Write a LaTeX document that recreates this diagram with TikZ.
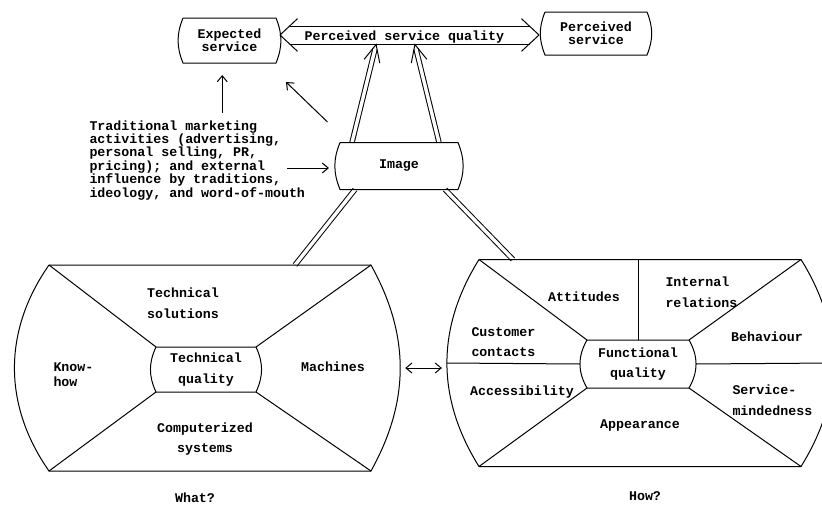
\documentclass[tikz,border=0pt]{standalone}
\usepackage{fontspec}
\setmonofont{Liberation Mono}
\usetikzlibrary{positioning,calc,arrows.meta}

\tikzset{
  lbl/.style={font=\ttfamily\bfseries\fontsize{13.3}{20.5}\selectfont, align=center, inner sep=0pt},
  tight/.style={font=\ttfamily\bfseries\fontsize{13.3}{13.4}\selectfont},
  blob/.style={lbl, rectangle, outer sep=0pt},
  dbl/.style={double, double distance=3.4pt},
  >={Straight Barb[length=6pt,width=10pt]},
}

\begin{document}
\begin{tikzpicture}[x=1pt, y=1pt, line width=1pt]
\useasboundingbox (0,0) rectangle (822,-506);

\node[blob, tight, minimum width=93pt, minimum height=45pt] (exp) at (229.5,-40.5) {Expected\\service};
\node[blob, tight, minimum width=102pt, minimum height=43pt] (perc) at (596,-33.5) {Perceived\\service};
\node[blob, minimum width=118pt, minimum height=47pt] (img) at (399,-166) {Image};
\node[lbl, tight, align=left, anchor=north west] (mkt) at (89,-120) {Traditional marketing\\activities (advertising,\\personal selling, PR,\\pricing); and external\\influence by traditions,\\ideology, and word-of-mouth};

\node[blob, minimum width=322pt, minimum height=206pt] (what) at (210,-368) {};
\node[blob, minimum width=100pt, minimum height=45pt] (tq) at (206,-369.5) {Technical\\quality};
\node[blob, minimum width=322pt, minimum height=207pt] (how) at (640,-363) {};
\node[blob, minimum width=102pt, minimum height=48pt] (fq) at (638,-364) {Functional\\quality};

% perceived service quality
\coordinate (lt) at ([shift={(4,5.5)}]exp.east);
\coordinate (rt) at ($(perc.west |- lt)+(-6,0)$);
\draw[double, double distance=17pt, shorten <=9.5pt, shorten >=9.5pt] (lt) -- (rt);
\draw ($(lt)!24pt!43:(rt)$) -- (lt) -- ($(lt)!24pt!-43:(rt)$);
\draw ($(rt)!24pt!43:(lt)$) -- (rt) -- ($(rt)!24pt!-43:(lt)$);
\node[lbl] (psq) at ($(lt)!0.48!(rt)+(0,-2)$) {Perceived service quality};

% image up to perceived service quality
\coordinate (l0) at ([xshift=12pt]img.north west);
\coordinate (r0) at ([xshift=-19pt]img.north east);
\coordinate (u1) at ($(lt)!0.371!(rt)+(0,-9.5)$);
\coordinate (u2) at ($(lt)!0.521!(rt)+(0,-9.5)$);
\draw[dbl, shorten >=4.7pt] (l0) -- (u1);
\draw ($(u1)!19pt!25:(l0)$) -- (u1) -- ($(u1)!19pt!-25:(l0)$);
\draw[dbl, shorten >=4.7pt] (r0) -- (u2);
\draw ($(u2)!19pt!25:(r0)$) -- (u2) -- ($(u2)!19pt!-25:(r0)$);

% image down to the two qualities
\draw[dbl] ([xshift=15pt]img.south west) -- ([xshift=85pt]what.north);
\draw[dbl] ([xshift=-13pt]img.south east) -- ([xshift=34pt]how.north west);

% marketing influences
\draw[->, shorten <=7pt, shorten >=12pt] ($(mkt.north)+(25,0)$) -- ($(mkt.north |- exp.south)+(25,0)$);
\coordinate (d1) at ([shift={(22,-2)}]mkt.north east);
\coordinate (d2) at ([shift={(10,-19)}]exp.south east);
\draw[->] (d1) -- (d2);
\coordinate (i1) at ($(img.west)+(-11,-2)$);
\draw[->] ($(mkt.east |- i1)+(-18,0)$) -- (i1);

% outlines
\draw (exp.north west) -- (exp.north east) to[bend left=22] (exp.south east) -- (exp.south west) to[bend left=22] (exp.north west);
\draw (perc.north west) -- (perc.north east) to[bend left=22] (perc.south east) -- (perc.south west) to[bend left=22] (perc.north west);
\draw (img.north west) -- (img.north east) to[bend left=22] (img.south east) -- (img.south west) to[bend left=22] (img.north west);
\draw (what.north west) -- (what.north east) to[bend left=29] coordinate[pos=.5] (whatE) (what.south east) -- (what.south west) to[bend left=35] (what.north west);
\draw (tq.north west) -- (tq.north east) to[bend left=25] (tq.south east) -- (tq.south west) to[bend left=25] (tq.north west);
\draw (how.north west) -- (how.north east) to[bend left=32] coordinate[pos=.5] (howE) (how.south east) -- (how.south west) to[bend left=32] coordinate[pos=.5] (howW) (how.north west);
\draw (fq.north west) -- (fq.north east) to[bend left=30] coordinate[pos=.5] (fqE) (fq.south east) -- (fq.south west) to[bend left=30] coordinate[pos=.5] (fqW) (fq.north west);

% technical quality
\draw (what.north west) -- (tq.north west);
\draw (what.north east) -- (tq.north east);
\draw (what.south west) -- (tq.south west);
\draw (what.south east) -- (tq.south east);
\node[lbl] (tsol) at (183,-303) {Technical\\solutions};
\node[lbl, align=left, anchor=west] (know) at (53,-374.5) {Know-\\[-5.5pt]how};
\node[lbl] (mach) at (333,-367) {Machines};
\node[lbl] (comp) at (205,-439) {Computerized\\systems};
\node[lbl, below=21pt of what, xshift=-15pt] (qwhat) {What?};

% functional quality
\draw (how.north west) -- (fq.north west);
\draw (how.north east) -- (fq.north east);
\draw (how.south west) -- (fq.south west);
\draw (how.south east) -- (fq.south east);
\draw (howW) -- (fqW);
\draw (fqE) -- (howE);
\draw (fq.north) -- (fq.north |- how.north);
\node[lbl] (att) at (584,-297) {Attitudes};
\node[lbl, align=left, anchor=west] (intr) at (665,-292) {Internal\\relations};
\node[lbl] (beh) at (767,-337) {Behaviour};
\node[lbl, align=left, anchor=west] (cust) at (471,-342) {Customer\\contacts};
\node[lbl] (acc) at (522,-392) {Accessibility};
\node[lbl, align=left, anchor=west] (smind) at (732,-400) {Service-\\mindedness};
\node[lbl] (app) at (640,-425) {Appearance};
\node[lbl, below=25pt of how, xshift=5pt] (qhow) {How?};

\draw[<->] ($(whatE)+(5,0)$) -- ($(whatE -| howW)+(-5,0)$);
\end{tikzpicture}
\end{document}
